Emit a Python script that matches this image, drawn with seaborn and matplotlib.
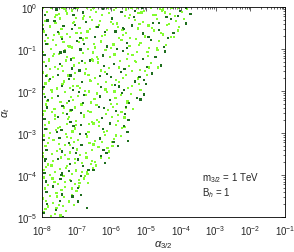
import numpy as np
import pandas as pd
import matplotlib
matplotlib.use("Agg")
import matplotlib.pyplot as plt
import seaborn as sns
from matplotlib.ticker import LogLocator, NullFormatter

# scan points as (log10 alpha_3/2, log10 alpha_t)
light_pts = [
    (-7.97, -0.01), (-7.74, -0.03), (-7.41, -0.02), (-7.33, -0.04), (-6.98, -0.01), (-6.71, -0.02),
    (-6.52, -0.03), (-6.09, -0.01), (-5.87, -0.02), (-5.42, -0.03), (-5.27, -0.01), (-4.86, -0.02),
    (-4.61, -0.04), (-4.27, -0.01), (-4.08, -0.03), (-7.86, -0.11), (-7.52, -0.16), (-7.13, -0.08),
    (-6.79, -0.21), (-6.44, -0.12), (-6.27, -0.18), (-5.93, -0.07), (-5.61, -0.22), (-5.22, -0.14),
    (-5.07, -0.09), (-4.73, -0.19), (-4.52, -0.06), (-4.31, -0.16), (-3.97, -0.11), (-7.62, -0.24),
    (-6.61, -0.24), (-5.47, -0.19), (-7.27, -0.15), (-3.83, -0.04),
    (-7.91, -0.33), (-7.78, -0.46), (-7.49, -0.27), (-7.11, -0.38), (-6.92, -0.49), (-6.57, -0.3),
    (-6.36, -0.42), (-6.01, -0.35), (-5.82, -0.48), (-5.5, -0.26), (-5.19, -0.4), (-4.93, -0.44),
    (-4.69, -0.29), (-4.39, -0.43), (-4.14, -0.34), (-7.61, -0.37), (-6.43, -0.47), (-5.33, -0.31),
    (-7.02, -0.26), (-5.96, -0.41), (-4.05, -0.47),
    (-7.95, -0.58), (-7.66, -0.67), (-7.44, -0.52), (-7.19, -0.72), (-6.88, -0.61), (-6.62, -0.53),
    (-6.28, -0.69), (-6.12, -0.55), (-5.79, -0.74), (-5.58, -0.62), (-5.24, -0.51), (-5.03, -0.7),
    (-4.77, -0.56), (-4.51, -0.65), (-4.19, -0.71), (-7.83, -0.74), (-6.72, -0.73), (-5.66, -0.66),
    (-7.29, -0.64),
    (-7.92, -0.8), (-7.59, -0.9), (-7.38, -0.84), (-7.14, -0.96), (-6.82, -0.77), (-6.51, -0.88),
    (-6.31, -0.82), (-6.02, -0.97), (-5.71, -0.79), (-5.48, -0.93), (-5.16, -0.85), (-4.91, -0.98),
    (-4.62, -0.81), (-4.43, -0.91), (-7.74, -0.99), (-6.68, -0.99), (-5.29, -0.76), (-7.25, -0.92),
    (-7.98, -1.07), (-7.69, -1.17), (-7.34, -1.03), (-7.09, -1.21), (-6.83, -1.09), (-6.42, -1.19),
    (-6.17, -1.02), (-5.91, -1.13), (-5.55, -1.23), (-5.27, -1.07), (-4.95, -1.16), (-4.67, -1.03),
    (-7.79, -1.24), (-6.56, -1.25), (-5.39, -1.14), (-7.52, -1.11),
    (-7.94, -1.31), (-7.63, -1.43), (-7.32, -1.27), (-7.07, -1.39), (-6.74, -1.48), (-6.38, -1.32),
    (-6.06, -1.45), (-5.76, -1.29), (-5.49, -1.41), (-5.18, -1.49), (-4.86, -1.34), (-7.77, -1.48),
    (-6.53, -1.27), (-5.31, -1.28), (-6.94, -1.33), (-4.66, -1.44),
    (-7.97, -1.56), (-7.68, -1.67), (-7.39, -1.52), (-7.08, -1.71), (-6.77, -1.58), (-6.47, -1.69),
    (-6.18, -1.54), (-5.87, -1.73), (-5.58, -1.61), (-5.23, -1.7), (-7.81, -1.75), (-6.62, -1.74),
    (-5.41, -1.53), (-4.97, -1.62), (-7.24, -1.63),
    (-7.9, -1.82), (-7.57, -1.94), (-7.36, -1.77), (-6.98, -1.88), (-6.77, -1.99), (-6.39, -1.84),
    (-6.17, -1.96), (-5.79, -1.78), (-5.53, -1.92), (-5.21, -1.83), (-7.73, -1.97), (-6.6, -1.76),
    (-7.2, -1.93), (-5.99, -1.86),
    (-7.94, -2.07), (-7.71, -2.17), (-7.33, -2.02), (-7.1, -2.22), (-6.73, -2.09), (-6.49, -2.19),
    (-6.13, -2.03), (-5.88, -2.16), (-5.54, -2.24), (-7.84, -2.23), (-6.64, -2.01), (-5.44, -2.07),
    (-6.96, -2.12), (-5.73, -2.1),
    (-7.89, -2.32), (-7.64, -2.43), (-7.28, -2.28), (-7.05, -2.39), (-6.68, -2.48), (-6.43, -2.33),
    (-6.09, -2.45), (-5.83, -2.31), (-5.57, -2.41), (-7.72, -2.49), (-6.58, -2.27), (-7.18, -2.46),
    (-5.95, -2.38), (-7.47, -2.26),
    (-7.97, -2.56), (-7.62, -2.67), (-7.39, -2.53), (-7.03, -2.71), (-6.79, -2.58), (-6.41, -2.68),
    (-6.16, -2.55), (-5.81, -2.72), (-7.8, -2.75), (-6.57, -2.74), (-5.98, -2.61), (-7.23, -2.62),
    (-5.62, -2.63),
    (-7.91, -2.81), (-7.6, -2.93), (-7.27, -2.79), (-7.04, -2.89), (-6.66, -2.98), (-6.36, -2.83),
    (-6.13, -2.95), (-5.86, -2.8), (-7.78, -2.99), (-6.52, -2.77), (-7.12, -2.96), (-5.69, -2.88),
    (-7.48, -2.86),
    (-7.95, -3.06), (-7.67, -3.16), (-7.32, -3.03), (-7.07, -3.21), (-6.71, -3.08), (-6.47, -3.19),
    (-6.19, -3.04), (-5.93, -3.14), (-7.83, -3.24), (-6.63, -3.24), (-7.16, -3.12), (-5.72, -3.07),
    (-7.9, -3.31), (-7.57, -3.43), (-7.34, -3.28), (-6.99, -3.39), (-6.73, -3.48), (-6.37, -3.33),
    (-6.07, -3.44), (-7.71, -3.49), (-6.52, -3.27), (-7.19, -3.46), (-5.97, -3.3), (-7.49, -3.37),
    (-7.97, -3.56), (-7.69, -3.67), (-7.33, -3.53), (-7.06, -3.71), (-6.72, -3.58), (-6.48, -3.68),
    (-7.82, -3.75), (-6.58, -3.74), (-6.91, -3.52), (-7.24, -3.62), (-6.29, -3.6),
    (-7.89, -3.81), (-7.63, -3.93), (-7.29, -3.78), (-7.03, -3.89), (-6.69, -3.98), (-6.54, -3.84),
    (-7.77, -3.99), (-7.14, -3.97), (-7.48, -3.86), (-6.84, -3.92),
    (-7.95, -4.06), (-7.64, -4.16), (-7.38, -4.03), (-7.04, -4.21), (-6.78, -4.08), (-6.67, -4.19),
    (-7.83, -4.24), (-6.94, -4.11), (-7.53, -4.22), (-7.19, -4.12),
    (-7.92, -4.31), (-7.58, -4.42), (-7.33, -4.28), (-7.01, -4.38), (-7.78, -4.49), (-7.14, -4.47),
    (-7.44, -4.35), (-6.93, -4.27),
    (-7.97, -4.56), (-7.68, -4.66), (-7.37, -4.53), (-7.07, -4.71), (-7.82, -4.75), (-7.52, -4.72),
    (-7.22, -4.61),
    (-7.9, -4.81), (-7.62, -4.92), (-7.32, -4.86), (-7.75, -4.98), (-7.47, -4.96), (-7.56, -4.78),
    # second pass, read column by column
    (-7.99, -0.42), (-7.85, -1.63), (-7.93, -2.47), (-7.8, -3.12), (-7.96, -3.88), (-7.88, -4.62),
    (-7.83, -0.87), (-7.97, -1.95), (-7.91, -4.33), (-7.86, -2.91), (-7.99, -3.47), (-7.81, -1.29),
    (-7.94, -4.87),
    (-7.58, -0.19), (-7.69, -0.78), (-7.55, -1.47), (-7.71, -2.03), (-7.62, -2.58), (-7.52, -3.26),
    (-7.73, -3.77), (-7.57, -4.51), (-7.66, -1.12), (-7.54, -2.88), (-7.7, -4.08), (-7.6, -4.79),
    (-7.51, -0.63),
    (-7.31, -0.09), (-7.44, -0.71), (-7.27, -1.18), (-7.41, -1.84), (-7.36, -2.39), (-7.28, -3.09),
    (-7.46, -3.58), (-7.33, -4.17), (-7.39, -4.73), (-7.26, -2.67), (-7.43, -1.41), (-7.3, -3.83),
    (-7.08, -0.36), (-7.21, -0.94), (-7.04, -1.57), (-7.16, -2.14), (-7.02, -2.81), (-7.19, -3.29),
    (-7.06, -3.61), (-7.13, -4.32), (-7.23, -4.63), (-7.11, -1.87), (-7.01, -0.61),
    (-6.81, -0.27), (-6.94, -0.84), (-6.77, -1.34), (-6.9, -1.92), (-6.79, -2.62), (-6.96, -3.17),
    (-6.84, -3.71), (-6.92, -4.19), (-6.86, -2.32), (-6.76, -4.03),
    (-6.58, -0.07), (-6.69, -0.58), (-6.53, -1.08), (-6.66, -1.62), (-6.51, -2.18), (-6.64, -2.79),
    (-6.57, -3.41), (-6.7, -3.93), (-6.6, -2.49), (-6.55, -3.66),
    (-6.33, -0.33), (-6.47, -0.96), (-6.29, -1.51), (-6.41, -2.06), (-6.35, -2.73), (-6.27, -3.22),
    (-6.44, -3.77), (-6.38, -1.24),
    (-6.08, -0.14), (-6.19, -0.67), (-6.04, -1.19), (-6.16, -1.79), (-6.02, -2.31), (-6.21, -2.97),
    (-6.11, -3.36), (-6.06, -3.59),
    (-5.83, -0.39), (-5.94, -0.89), (-5.78, -1.44), (-5.91, -2.01), (-5.8, -2.57), (-5.86, -3.06),
    (-5.97, -3.21),
    (-5.59, -0.06), (-5.68, -0.54), (-5.53, -1.11), (-5.66, -1.68), (-5.56, -2.27), (-5.62, -2.86),
    (-5.71, -2.49),
    (-5.34, -0.24), (-5.46, -0.73), (-5.29, -1.31), (-5.41, -1.88), (-5.37, -2.43),
    (-5.09, -0.36), (-5.21, -0.91), (-5.04, -1.52), (-5.16, -1.97), (-5.13, -0.13),
    (-4.84, -0.49), (-4.96, -1.07), (-4.79, -0.18), (-4.91, -1.44),
    (-4.58, -0.61), (-4.69, -0.98), (-4.54, -0.08),
    (-4.33, -0.41), (-4.46, -0.13), (-4.29, -0.72),
    (-4.16, -0.21), (-3.91, -0.29), (-4.09, -0.56),
]

dark_pts = [
    (-7.58, -0.06), (-6.24, -0.04), (-4.03, -0.09), (-3.72, -0.17), (-5.11, -0.03), (-6.83, -0.13),
    (-7.92, -0.19), (-5.36, -0.23), (-4.41, -0.24), (-3.86, -0.02), (-5.71, -0.12), (-7.04, -0.03),
    (-7.38, -0.45), (-6.74, -0.36), (-5.98, -0.27), (-5.41, -0.44), (-4.81, -0.37), (-3.86, -0.39),
    (-5.67, -0.49), (-7.06, -0.43), (-4.28, -0.28), (-7.84, -0.32),
    (-7.53, -0.6), (-6.47, -0.71), (-5.63, -0.52), (-5.1, -0.63), (-4.63, -0.54), (-6.19, -0.59),
    (-7.13, -0.52), (-4.36, -0.74), (-7.89, -0.66),
    (-7.42, -0.76), (-6.78, -0.87), (-6.13, -0.94), (-5.56, -0.86), (-4.87, -0.79), (-4.49, -0.95),
    (-7.0, -0.81), (-5.84, -0.99), (-7.87, -0.88),
    (-7.47, -1.08), (-6.89, -1.01), (-6.24, -1.15), (-5.67, -1.04), (-5.09, -1.23), (-4.46, -1.06),
    (-4.73, -1.19), (-7.17, -1.25), (-7.93, -1.14),
    (-7.48, -1.36), (-6.85, -1.28), (-6.21, -1.41), (-5.62, -1.47), (-4.98, -1.43), (-4.58, -1.39),
    (-7.13, -1.46), (-5.92, -1.35), (-7.89, -1.4),
    (-7.53, -1.61), (-6.92, -1.51), (-6.33, -1.64), (-5.72, -1.55), (-4.82, -1.58), (-5.06, -1.73),
    (-7.22, -1.72), (-6.02, -1.67), (-7.88, -1.64),
    (-7.43, -1.87), (-6.84, -1.79), (-6.29, -1.9), (-5.64, -1.98), (-5.33, -1.77), (-5.01, -1.83),
    (-7.11, -1.97), (-5.9, -1.85), (-7.96, -1.91),
    (-7.55, -2.11), (-6.93, -2.03), (-6.34, -2.13), (-5.69, -2.04), (-5.27, -2.16), (-5.07, -2.08),
    (-7.23, -2.24), (-6.04, -2.22), (-5.16, -2.2), (-7.91, -2.14),
    (-7.41, -2.36), (-6.82, -2.29), (-6.22, -2.41), (-5.87, -2.47), (-5.49, -2.28), (-7.15, -2.45),
    (-7.86, -2.39),
    (-7.54, -2.61), (-6.87, -2.52), (-6.27, -2.64), (-5.6, -2.55), (-5.51, -2.69), (-7.18, -2.73),
    (-7.93, -2.66),
    (-7.44, -2.93), (-6.88, -2.8), (-6.25, -2.91), (-5.63, -2.84), (-5.54, -2.97), (-7.09, -2.84),
    (-7.9, -2.9),
    (-7.5, -3.11), (-6.9, -3.02), (-6.33, -3.13), (-5.94, -3.22), (-5.52, -3.19), (-7.22, -3.23),
    (-7.96, -3.17),
    (-7.43, -3.44), (-6.86, -3.29), (-6.23, -3.41), (-5.81, -3.31), (-6.14, -3.47), (-7.11, -3.35),
    (-7.87, -3.41),
    (-7.53, -3.61), (-6.97, -3.63), (-6.31, -3.55), (-6.19, -3.72), (-7.2, -3.74), (-7.92, -3.66),
    (-7.43, -3.96), (-6.82, -3.79), (-6.66, -3.87), (-7.23, -3.91), (-7.93, -3.95),
    (-7.47, -4.09), (-6.88, -4.02), (-7.17, -4.14), (-7.88, -4.15),
    (-7.42, -4.46), (-6.96, -4.3), (-7.87, -4.41), (-6.88, -4.47),
    (-7.48, -4.61), (-7.85, -4.68), (-7.12, -4.51), (-6.97, -4.63),
    (-6.7, -4.79), (-7.59, -4.84), (-7.96, -4.91), (-7.4, -4.99),
    # second pass
    (-7.97, -0.53), (-7.82, -2.21), (-7.9, -3.62), (-7.76, -1.72), (-7.64, -0.34), (-7.57, -2.97),
    (-7.68, -4.27), (-7.35, -1.06), (-7.29, -2.54), (-7.44, -3.99), (-7.09, -0.19), (-7.18, -1.63),
    (-7.03, -3.47), (-6.89, -0.74), (-6.78, -2.09), (-6.73, -3.02), (-6.61, -1.27), (-6.52, -3.88),
    (-6.4, -0.47), (-6.36, -2.38), (-6.13, -1.59), (-6.05, -2.77), (-5.88, -0.58), (-5.79, -1.89),
    (-5.55, -0.97), (-5.57, -2.38), (-5.31, -0.09), (-5.19, -1.66), (-4.93, -0.71), (-4.62, -0.37),
    (-4.21, -0.62), (-4.08, -0.22),
]

light_col = "#84fc30"
dark_col = "#1e6e1e"

frames = []
for name, pts in [("light", light_pts), ("dark", dark_pts)]:
    lx, ly = zip(*pts)
    frames.append(pd.DataFrame({"a32": 10.0 ** np.array(lx), "at": 10.0 ** np.array(ly), "set": name}))
df = pd.concat(frames, ignore_index=True)

sns.set_style("white")
plt.rcParams["font.family"] = ["Liberation Sans", "DejaVu Sans"]
plt.rcParams["mathtext.fontset"] = "custom"
plt.rcParams["mathtext.rm"] = "Liberation Sans"
plt.rcParams["mathtext.it"] = "Liberation Sans:italic"
plt.rcParams["axes.unicode_minus"] = False

fig = plt.figure(figsize=(2.94, 2.53), dpi=100)
ax = fig.add_axes([0.143, 0.138, 0.826, 0.830])

sns.scatterplot(data=df, x="a32", y="at", hue="set",
                palette={"light": light_col, "dark": dark_col},
                marker="s", s=2.6, linewidth=0, legend=False, ax=ax)

ax.set_xscale("log")
ax.set_yscale("log")
ax.set_xlim(1e-8, 1e-1)
ax.set_ylim(1e-5, 1)
ax.set_xticks([10.0 ** k for k in range(-8, 0)])
ax.set_yticks([10.0 ** k for k in range(-5, 1)])
for a in (ax.xaxis, ax.yaxis):
    a.set_minor_locator(LogLocator(base=10, subs=np.arange(2, 10)))
    a.set_minor_formatter(NullFormatter())
ax.tick_params(which="both", direction="in", top=True, right=True, labelsize=7, width=0.5)
ax.tick_params(axis="x", which="major", pad=4.5)
ax.tick_params(axis="y", which="major", pad=3)
ax.tick_params(which="major", length=3)
ax.tick_params(which="minor", length=1.5)
for sp in ax.spines.values():
    sp.set_linewidth(0.6)
    sp.set_color("black")

ax.set_xlabel(r"$\alpha_{3/2}$", fontsize=8, labelpad=1)
ax.set_ylabel(r"$\alpha_t$", fontsize=8, labelpad=4)

ax.text(0.66, 0.19, r"m$_{3/2}$ = 1 TeV", transform=ax.transAxes, fontsize=7, va="center")
ax.text(0.66, 0.12, r"B$_h$ = 1", transform=ax.transAxes, fontsize=7, va="center")

fig.savefig("out.png", dpi=100)
